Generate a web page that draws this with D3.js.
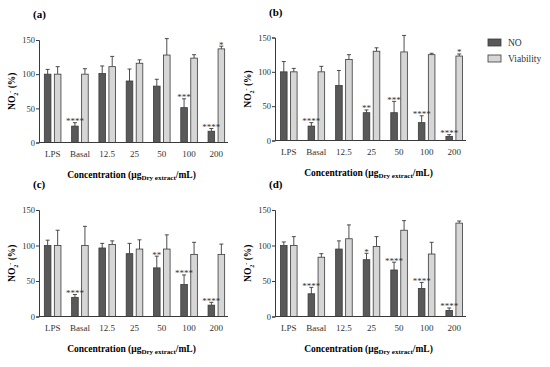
<!DOCTYPE html>
<html>
<head>
<meta charset="utf-8">
<script src="https://cdn.jsdelivr.net/npm/d3@7"></script>
<style>
  body { margin: 0; background: #fff; }
  svg { display: block; font-family: 'Liberation Serif', 'DejaVu Serif', serif; }
</style>
</head>
<body>
<svg width="550" height="367"></svg>
<script>
const CATEGORIES = ['LPS', 'Basal', '12.5', '25', '50', '100', '200']
const SERIES = ['NO', 'Viability']
const Y_TICKS = [0, 50, 100, 150]

// means and upper error (SD) per panel
const NO_A = [100, 24, 101, 90, 82.5, 51, 16.5]
const NO_ERR_A = [7, 5, 11, 17.5, 10, 13, 4]
const VIA_A = [100, 100, 111, 116, 128, 123.5, 137]
const VIA_ERR_A = [11, 8, 15, 5, 24, 5, 4]
const NO_STARS_A = ['', '****', '', '', '', '***', '****']
const VIA_STARS_A = ['', '', '', '', '', '', '*']

const NO_B = [100, 21, 80, 40.5, 40.5, 26, 6]
const NO_ERR_B = [15, 5, 22, 4, 16.5, 10, 2.5]
const VIA_B = [100, 100, 118, 130, 129, 125, 123]
const VIA_ERR_B = [5, 8, 7, 5, 24, 2, 3]
const NO_STARS_B = ['', '****', '', '**', '***', '****', '****']
const VIA_STARS_B = ['', '', '', '', '', '', '*']

const NO_C = [100, 27, 96.5, 88.5, 68.5, 45, 16]
const NO_ERR_C = [7.5, 4, 6.5, 14.5, 16.5, 13.5, 4]
const VIA_C = [100, 100, 101.5, 95, 95, 87.5, 87.5]
const VIA_ERR_C = [21.5, 27, 5, 13, 20, 17, 14.5]
const NO_STARS_C = ['', '****', '', '', '**', '****', '****']
const VIA_STARS_C = ['', '', '', '', '', '', '']

const NO_D = [100, 32, 95, 80, 65.5, 39.5, 8.5]
const NO_ERR_D = [5, 9, 11.5, 9, 11, 8.5, 3.5]
const VIA_D = [100, 83.5, 109.5, 98.5, 121.5, 88, 131.5]
const VIA_ERR_D = [12.5, 5, 19.5, 14, 13.5, 16.5, 3]
const NO_STARS_D = ['', '****', '', '*', '****', '****', '****']
const VIA_STARS_D = ['', '', '', '', '', '', '']

const COLORS = { NO: '#595959', Viability: '#d6d6d6' }

const panels = [
  { label: '(a)', x0: 39, x1: 230, y0: 142.5, y1: 40, no: NO_A, noErr: NO_ERR_A, via: VIA_A, viaErr: VIA_ERR_A, noStars: NO_STARS_A, viaStars: VIA_STARS_A },
  { label: '(b)', x0: 275, x1: 468, y0: 140.5, y1: 37.5, no: NO_B, noErr: NO_ERR_B, via: VIA_B, viaErr: VIA_ERR_B, noStars: NO_STARS_B, viaStars: VIA_STARS_B },
  { label: '(c)', x0: 39, x1: 230, y0: 316.5, y1: 210, no: NO_C, noErr: NO_ERR_C, via: VIA_C, viaErr: VIA_ERR_C, noStars: NO_STARS_C, viaStars: VIA_STARS_C },
  { label: '(d)', x0: 275, x1: 468, y0: 316.5, y1: 210, no: NO_D, noErr: NO_ERR_D, via: VIA_D, viaErr: VIA_ERR_D, noStars: NO_STARS_D, viaStars: VIA_STARS_D }
]

const svg = d3.select('svg')
const axisColor = '#3a3a3a'

function drawPanel (p) {
  const g = svg.append('g')
  const x = d3.scaleBand().domain(CATEGORIES).range([p.x0, p.x1])
  const bw = x.bandwidth()
  const xs = d3.scaleBand().domain(SERIES).range([bw / 2 - 8.3, bw / 2 + 8.3]).paddingInner(0.34)
  const y = d3.scaleLinear().domain([0, 150]).range([p.y0, p.y1])

  const rows = CATEGORIES.map((c, i) => [
    { cat: c, s: 'NO', v: p.no[i], e: p.noErr[i], star: p.noStars[i] },
    { cat: c, s: 'Viability', v: p.via[i], e: p.viaErr[i], star: p.viaStars[i] }
  ]).flat()
  const cx = d => x(d.cat) + xs(d.s) + xs.bandwidth() / 2

  // error bars (upper only)
  const eb = g.append('g').selectAll('g').data(rows).enter().append('g')
  eb.append('line')
    .attr('x1', cx).attr('x2', cx)
    .attr('y1', d => y(d.v))
    .attr('y2', d => y(d.v + d.e))
    .attr('stroke', axisColor).attr('stroke-width', 0.9)
  eb.append('line')
    .attr('x1', d => cx(d) - 2)
    .attr('x2', d => cx(d) + 2)
    .attr('y1', d => y(d.v + d.e))
    .attr('y2', d => y(d.v + d.e))
    .attr('stroke', axisColor).attr('stroke-width', 0.9)

  g.append('g').selectAll('rect').data(rows).enter().append('rect')
    .attr('x', d => x(d.cat) + xs(d.s))
    .attr('y', d => y(d.v))
    .attr('width', xs.bandwidth())
    .attr('height', d => y(0) - y(d.v))
    .attr('fill', d => COLORS[d.s])
    .attr('stroke', axisColor)
    .attr('stroke-width', 0.8)

  g.append('g').selectAll('text').data(rows.filter(d => d.star)).enter().append('text')
    .attr('x', cx)
    .attr('y', d => y(d.v + d.e) + 1.5)
    .attr('text-anchor', 'middle')
    .attr('font-size', 9)
    .attr('fill', '#333')
    .text(d => d.star)

  // y axis
  const ya = g.append('g')
    .attr('transform', `translate(${p.x0},0)`)
    .call(d3.axisLeft(y).tickValues(Y_TICKS).tickSize(3).tickPadding(1))
    .attr('font-family', null)
    .attr('font-size', 8.5)
  ya.select('.domain').attr('stroke', axisColor)
  ya.selectAll('line').attr('stroke', axisColor)
  ya.selectAll('text').attr('fill', '#333')

  // x axis
  const xa = g.append('g')
    .attr('transform', `translate(0,${p.y0})`)
    .call(d3.axisBottom(x).tickSize(0).tickPadding(8))
    .attr('font-family', null)
    .attr('font-size', 9)
  xa.select('.domain').attr('d', `M${p.x0},0H${p.x1 - 2}`).attr('stroke', axisColor)
  xa.selectAll('text').attr('fill', '#333')

  // panel label
  g.append('text')
    .attr('x', p.x0 - 6)
    .attr('y', p.y1 - 22)
    .attr('font-size', 11)
    .attr('font-weight', 'bold')
    .text(p.label)

  // y title
  const yt = g.append('text')
    .attr('transform', `translate(${p.x0 - 24},${(p.y0 + p.y1) / 2}) rotate(-90)`)
    .attr('text-anchor', 'middle')
    .attr('font-size', 9.5)
    .attr('font-weight', 'bold')
  yt.append('tspan').text('NO')
  yt.append('tspan').attr('font-size', 6).attr('dy', 2.5).text('2')
  yt.append('tspan').attr('font-size', 6).attr('dy', -6).text('-')
  yt.append('tspan').attr('dy', 3.5).text(' (%)')

  // x title
  const xt = g.append('text')
    .attr('x', (p.x0 + p.x1) / 2 - 3)
    .attr('y', p.y0 + 35)
    .attr('text-anchor', 'middle')
    .attr('font-size', 9.5)
    .attr('font-weight', 'bold')
  xt.append('tspan').text('Concentration (μg')
  xt.append('tspan').attr('font-size', 7).attr('dy', 2.5).text('Dry extract')
  xt.append('tspan').attr('dy', -2.5).text('/mL)')
}

panels.forEach(drawPanel)

// legend
const legend = svg.append('g').attr('transform', 'translate(488,39)')
SERIES.forEach((s, i) => {
  const row = legend.append('g').attr('transform', `translate(0,${i * 16})`)
  row.append('rect')
    .attr('width', 13).attr('height', 7)
    .attr('fill', COLORS[s]).attr('stroke', axisColor).attr('stroke-width', 0.8)
  row.append('text')
    .attr('x', 20).attr('y', 7)
    .attr('font-size', 9.5)
    .attr('fill', '#333')
    .text(s)
})
</script>
</body>
</html>
